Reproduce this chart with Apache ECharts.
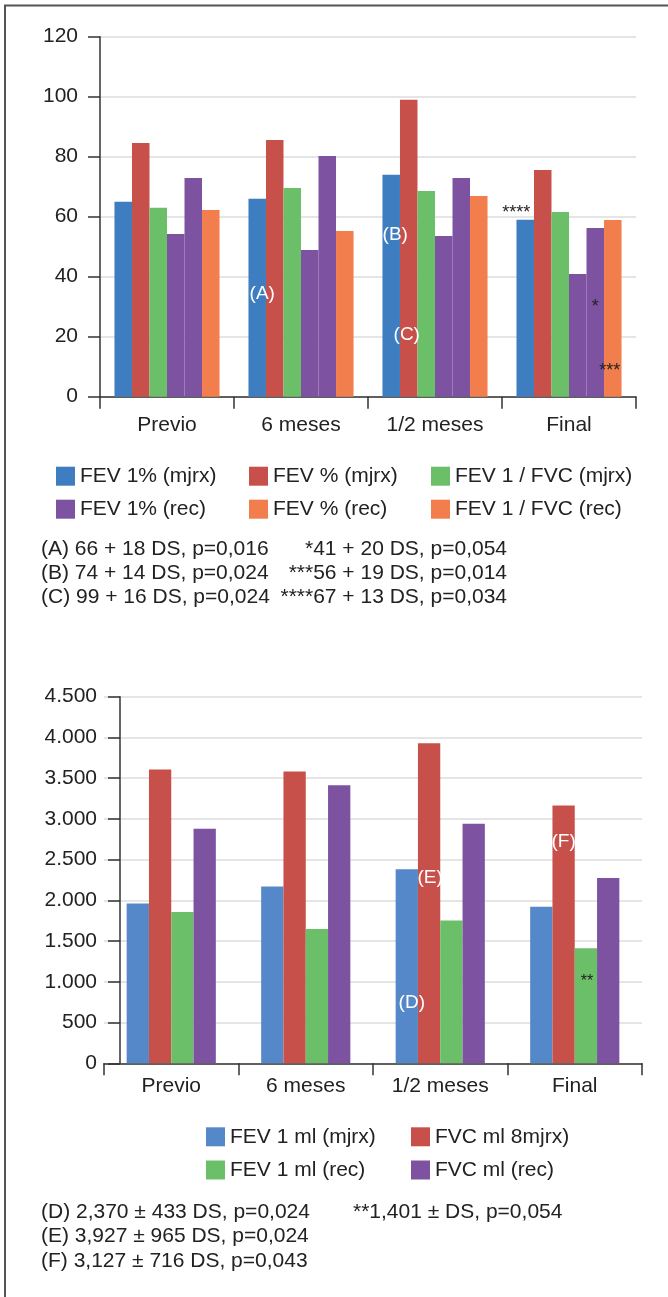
<!DOCTYPE html>
<html><head><meta charset="utf-8">
<script src="https://cdn.jsdelivr.net/npm/echarts@6/dist/echarts.min.js"></script>
<style>html,body{margin:0;padding:0;background:#fff}#c{width:668px;height:1297px}</style>
</head><body><div id="c"></div>
<script>
// ---------- data ----------
const categories = ['Previo', '6 meses', '1/2 meses', 'Final'];

// top chart (%)
const topNames = ['FEV 1% (mjrx)', 'FEV % (mjrx)', 'FEV 1 / FVC (mjrx)', 'FEV 1% (rec)', 'FEV % (rec)', 'FEV 1 / FVC (rec)'];
const fev1PctMjrx = [65, 66, 74, 59];
const fevPctMjrx  = [84.6, 85.6, 99, 75.6];
const fev1FvcMjrx = [63, 69.6, 68.6, 61.6];
const fev1PctRec  = [54.2, 48.9, 53.6, 40.9];
const fevPctRec   = [72.9, 80.2, 72.9, 56.2];
const fev1FvcRec  = [62.2, 55.2, 66.9, 58.9];
const topTicks = [0, 20, 40, 60, 80, 100, 120];

// bottom chart (ml)
const bottomNames = ['FEV 1 ml (mjrx)', 'FVC ml 8mjrx)', 'FEV 1 ml (rec)', 'FVC ml (rec)'];
const fev1MlMjrx = [1961, 2171, 2382, 1922];
const fvcMlMjrx  = [3606, 3582, 3930, 3165];
const fev1MlRec  = [1856, 1648, 1752, 1412];
const fvcMlRec   = [2878, 3414, 2939, 2276];
const bottomTicks = [0, 500, 1000, 1500, 2000, 2500, 3000, 3500, 4000, 4500];

// notes
const notesTopLeft = ['(A) 66 + 18 DS, p=0,016', '(B) 74 + 14 DS, p=0,024', '(C) 99 + 16 DS, p=0,024'];
const notesTopRight = ['*41 + 20 DS, p=0,054', '***56 + 19 DS, p=0,014', '****67 + 13 DS, p=0,034'];
const notesBottomLeft = ['(D) 2,370 \u00b1 433 DS, p=0,024', '(E) 3,927 \u00b1 965 DS, p=0,024', '(F) 3,127 \u00b1 716 DS, p=0,043'];
const notesBottomRight = ['**1,401 \u00b1 DS, p=0,054'];

// ---------- styles ----------
const FONT = '"Liberation Sans", Arial, Helvetica, sans-serif';
const TXT = '#222';
const FS = 21;
const C = { blue: '#3e7ec0', blue2: '#5588c8', red: '#c8504a', green: '#6cbf69', purple: '#7d52a0', orange: '#f27e4e' };

function marks(items) {
  return {
    symbol: 'rect', symbolSize: 1, silent: true,
    itemStyle: { color: 'rgba(0,0,0,0)' },
    label: { show: true, position: 'inside', fontFamily: FONT },
    data: items.map(it => ({
      coord: [it[0], it[1]],
      label: { formatter: it[2], color: it[3], fontSize: it[4], offset: it[5] }
    }))
  };
}

const topSeriesData = [fev1PctMjrx, fevPctMjrx, fev1FvcMjrx, fev1PctRec, fevPctRec, fev1FvcRec];
const topColors = [C.blue, C.red, C.green, C.purple, C.purple, C.orange];
const topMarks = [
  [['6 meses', 34.2, '(A)', '#fff', 19, [5, 0]], ['1/2 meses', 53.9, '(B)', '#fff', 19, [4, 0]], ['Final', 62.6, '****', TXT, 18, [-9, 4]]],
  [['1/2 meses', 20.6, '(C)', '#fff', 19, [-2, 0]]],
  [], [],
  [['Final', 31.2, '*', TXT, 18, [0, 4]]],
  [['Final', 9.9, '***', TXT, 18, [-3, 4]]]
];

const botSeriesData = [fev1MlMjrx, fvcMlMjrx, fev1MlRec, fvcMlRec];
const botColors = [C.blue2, C.red, C.green, C.purple];
const botMarks = [
  [['1/2 meses', 740, '(D)', '#fff', 19, [5, 0]]],
  [['1/2 meses', 2275, '(E)', '#fff', 19, [1, 0]], ['Final', 2716, '(F)', '#fff', 19, [0, 0]]],
  [['Final', 1047, '**', TXT, 16, [1, 4]]],
  []
];

const series = [];
topNames.forEach((n, i) => series.push({
  name: n, type: 'bar', xAxisIndex: 0, yAxisIndex: 0, data: topSeriesData[i],
  itemStyle: { color: topColors[i] }, barGap: '0%', barCategoryGap: '21.6%',
  markPoint: topMarks[i].length ? marks(topMarks[i]) : undefined
}));
bottomNames.forEach((n, i) => series.push({
  name: n, type: 'bar', xAxisIndex: 1, yAxisIndex: 1, data: botSeriesData[i],
  itemStyle: { color: botColors[i] }, barGap: '0%', barCategoryGap: '33.7%',
  markPoint: botMarks[i].length ? marks(botMarks[i]) : undefined
}));

const axisLineStyle = { color: '#333', width: 1.5 };
function xAxis(gridIndex, margin) {
  return {
    type: 'category', gridIndex, data: categories,
    axisLine: { show: true, lineStyle: axisLineStyle },
    axisTick: { show: true, length: 12, lineStyle: axisLineStyle },
    axisLabel: { color: TXT, fontSize: FS, fontFamily: FONT, margin }
  };
}
function yAxis(gridIndex, ticks, fmt, margin, offset) {
  return {
    type: 'value', gridIndex, min: ticks[0], max: ticks[ticks.length - 1], interval: ticks[1] - ticks[0],
    offset,
    axisLine: { show: true, lineStyle: axisLineStyle },
    axisTick: { show: true, length: 12, lineStyle: axisLineStyle },
    splitLine: { show: true, lineStyle: { color: '#dcdcdc', width: 1.5 } },
    axisLabel: { color: TXT, fontSize: FS, fontFamily: FONT, margin, formatter: fmt }
  };
}
const dotFmt = v => String(v).replace(/\B(?=(\d{3})+(?!\d))/g, '.');

function legend(left, top, items, gap) {
  return {
    orient: 'vertical', left, top, itemWidth: 19, itemHeight: 19, itemGap: gap,
    icon: 'rect', selectedMode: false,
    textStyle: { color: TXT, fontSize: FS, fontFamily: FONT },
    data: items
  };
}

const graphic = [
  { type: 'polyline', shape: { points: [[5, 1297], [5, 5.5], [668, 5.5]] }, style: { stroke: '#555', lineWidth: 2, fill: null } }
];
function addNotes(lines, x, y0, dy, align) {
  lines.forEach((t, i) => graphic.push({
    type: 'text', x, y: y0 + i * dy,
    style: { text: t, fill: TXT, font: FS + 'px ' + FONT, align, verticalAlign: 'middle', textAlign: align, textVerticalAlign: 'middle' }
  }));
}
addNotes(notesTopLeft, 41, 549.5, 24, 'left');
addNotes(notesTopRight, 507, 549.5, 24, 'right');
addNotes(notesBottomLeft, 41, 1212, 24.5, 'left');
addNotes(notesBottomRight, 353, 1212, 24.5, 'left');

const option = {
  animation: false,
  backgroundColor: '#fff',
  grid: [
    { left: 100, width: 536, top: 36.7, height: 360 },
    { left: 104, width: 538, top: 696.7, height: 366.6 }
  ],
  xAxis: [xAxis(0, 18), xAxis(1, 12)],
  yAxis: [yAxis(0, topTicks, null, 22, 0), yAxis(1, bottomTicks, dotFmt, 23, -16)],
  legend: [
    legend(51, 460.7, [{ name: topNames[0] }, { name: topNames[3] }], 12),
    legend(244, 460.7, [{ name: topNames[1] }, { name: topNames[4], itemStyle: { color: C.orange } }], 12),
    legend(426, 460.7, [{ name: topNames[2] }, { name: topNames[5] }], 12),
    legend(201, 1121.3, [{ name: bottomNames[0] }, { name: bottomNames[2] }], 12.2),
    legend(406, 1121.3, [{ name: bottomNames[1] }, { name: bottomNames[3] }], 12.2)
  ],
  series,
  graphic
};
const chart = echarts.init(document.getElementById('c'), null, { renderer: 'canvas' });
chart.setOption(option);
</script>
</body></html>
